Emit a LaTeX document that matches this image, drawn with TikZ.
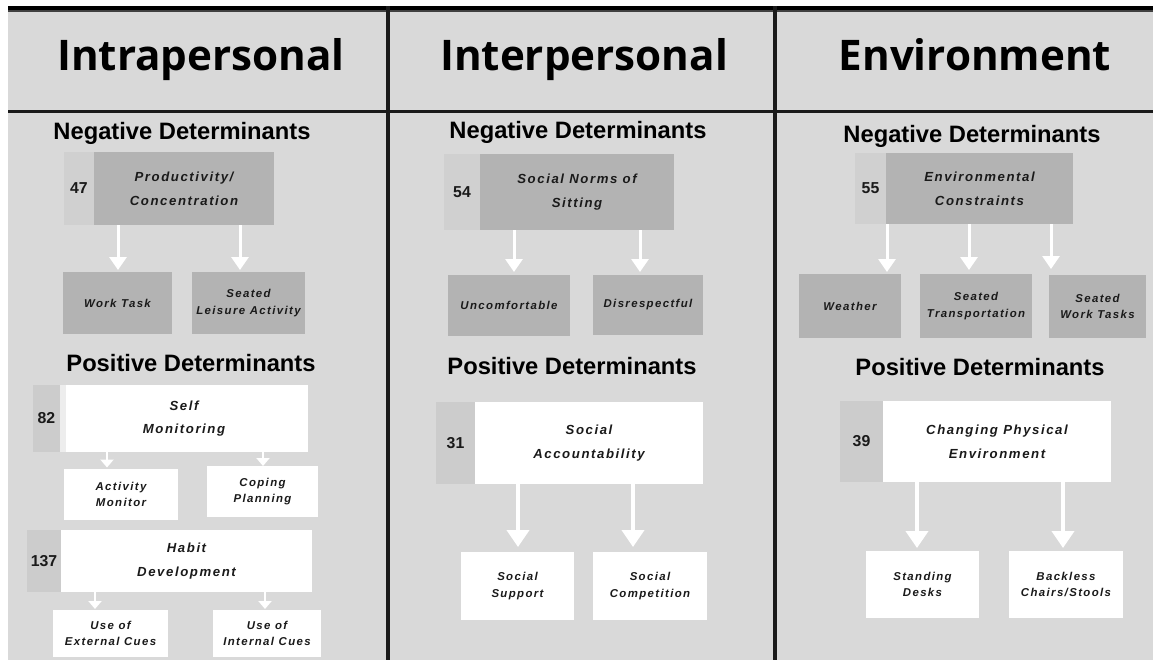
\documentclass[tikz,border=0pt]{standalone}
\usepackage{fontspec}
\setmainfont{Liberation Sans}
\newfontfamily\headfont{Open Sans}
\newfontfamily\boxfont[LetterSpace=12]{Liberation Sans}
\usetikzlibrary{arrows.meta, positioning}
\newcommand{\pxu}{0.02cm}
\definecolor{bggray}{HTML}{D9D9D9}
\definecolor{negdark}{HTML}{B3B3B3}
\definecolor{negnum}{HTML}{D0D0D0}
\definecolor{posnum}{HTML}{CCCCCC}
\definecolor{textdark}{HTML}{1A1A1A}
\definecolor{rulegray}{HTML}{1A1A1A}

\begin{document}
\begin{tikzpicture}[x=0.02cm, y=-0.02cm,
    sz/.style 2 args={minimum width=#1*\pxu, minimum height=#2*\pxu},
    head/.style={font=\headfont\fontsize{24}{28}\selectfont\bfseries, anchor=base, inner sep=0pt},
    subhead/.style={font=\bfseries\fontsize{13.5}{16}\selectfont, anchor=base, inner sep=0pt},
    mainbox/.style={rectangle, inner sep=0pt, outer sep=0pt, align=center, text=textdark,
        font=\boxfont\fontsize{7.5}{13.5}\selectfont\bfseries\itshape},
    leafbox/.style={rectangle, inner sep=0pt, outer sep=0pt, align=center, text=textdark,
        font=\boxfont\fontsize{6.5}{9.5}\selectfont\bfseries\itshape},
    numbox/.style={rectangle, inner sep=0pt, outer sep=0pt, text=textdark,
        font=\bfseries\fontsize{9}{11}\selectfont},
    negarrow/.style={draw=white, line width=0.06cm, -{Triangle[width=0.34cm, length=0.26cm]}},
    smallarrow/.style={draw=white, line width=0.05cm, -{Triangle[width=0.26cm, length=0.16cm]}},
    bigarrow/.style={draw=white, line width=0.08cm, -{Triangle[width=0.44cm, length=0.34cm]}}]

    \useasboundingbox (0,0) rectangle (1153,660);
    \fill[white] (0,0) rectangle (1153,660);
    \fill[bggray] (8,6) rectangle (1153,660);
    \fill[black] (8,6) rectangle (1153,10);
    \fill[black!75] (8,10) rectangle (1153,11.5);
    \fill[rulegray] (8,110) rectangle (1153,113);
    \fill[rulegray] (386,6) rectangle (390,660);
    \fill[rulegray] (773,6) rectangle (777,660);

    \node[head] (intrahead) at (201,70) {Intrapersonal};
    \node[head] (interhead) at (584,70) {Interpersonal};
    \node[head] (envhead) at (975,70) {Environment};

    \node[subhead] (intraneg) at (182,139) {Negative Determinants};
    \node[subhead] (interneg) at (578,138) {Negative Determinants};
    \node[subhead] (envneg) at (972,142) {Negative Determinants};
    \node[subhead] (intrapos) at (191,371) {Positive Determinants};
    \node[subhead] (interpos) at (572,374) {Positive Determinants};
    \node[subhead] (envpos) at (980,375) {Positive Determinants};

    % intrapersonal
    \node[mainbox, fill=negdark, sz={180}{73}] (prodbox) at (184,188.5) {Productivity/\\Concentration};
    \node[numbox, fill=negnum, sz={30}{73}, left=0pt of prodbox] (prodnum) {47};
    \node[leafbox, fill=negdark, sz={109}{62}] (worktask) at (117.5,303) {Work Task};
    \node[leafbox, fill=negdark, sz={113}{62}] (leisure) at (248.5,303) {Seated\\Leisure Activity};

    \node[mainbox, fill=white, sz={248}{67}] (selfmon) at (184,418.5) {Self\\Monitoring};
    \node[numbox, fill=posnum, sz={27}{67}, left=0pt of selfmon] (selfnum) {82};
    \fill[white!93!black] (selfmon.north west) rectangle ([xshift=6*\pxu]selfmon.south west);
    \node[leafbox, fill=white, sz={114}{51}] (actmon) at (121,494.5) {Activity\\Monitor};
    \node[leafbox, fill=white, sz={111}{51}] (coping) at (262.5,491.5) {Coping\\Planning};

    \node[mainbox, fill=white, sz={251}{62}] (habit) at (186.5,561) {Habit\\Development};
    \node[numbox, fill=posnum, sz={34}{62}, left=0pt of habit] (habitnum) {137};
    \node[leafbox, fill=white, sz={115}{47}] (extcues) at (110.5,633.5) {Use of\\External Cues};
    \node[leafbox, fill=white, sz={108}{47}] (intcues) at (267,633.5) {Use of\\Internal Cues};

    % interpersonal
    \node[mainbox, fill=negdark, sz={194}{76}] (norms) at (577,192) {Social Norms of\\Sitting};
    \node[numbox, fill=negnum, sz={36}{76}, left=0pt of norms] (normsnum) {54};
    \node[leafbox, fill=negdark, sz={122}{61}] (uncomf) at (509,305.5) {Uncomfortable};
    \node[leafbox, fill=negdark, sz={110}{60}] (disresp) at (648,305) {Disrespectful};

    \node[mainbox, fill=white, sz={228}{82}] (account) at (589,443) {Social\\Accountability};
    \node[numbox, fill=posnum, sz={39}{82}, left=0pt of account] (accnum) {31};
    \node[leafbox, fill=white, sz={113}{68}] (support) at (517.5,586) {Social\\Support};
    \node[leafbox, fill=white, sz={114}{68}] (compet) at (650,586) {Social\\Competition};

    % environment
    \node[mainbox, fill=negdark, sz={187}{71}] (constr) at (979.5,188.5) {Environmental\\Constraints};
    \node[numbox, fill=negnum, sz={31}{71}, left=0pt of constr] (constrnum) {55};
    \node[leafbox, fill=negdark, sz={102}{64}] (weather) at (850,306) {Weather};
    \node[leafbox, fill=negdark, sz={112}{64}] (transport) at (976,306) {Seated\\Transportation};
    \node[leafbox, fill=negdark, sz={97}{63}] (worktasks) at (1097.5,306.5) {Seated\\Work Tasks};

    \node[mainbox, fill=white, sz={228}{81}] (physenv) at (997,441.5) {Changing Physical\\Environment};
    \node[numbox, fill=posnum, sz={43}{81}, left=0pt of physenv] (physnum) {39};
    \node[leafbox, fill=white, sz={113}{67}] (standing) at (922.5,584.5) {Standing\\Desks};
    \node[leafbox, fill=white, sz={114}{67}] (backless) at (1066,584.5) {Backless\\Chairs/Stools};

    \draw[negarrow, shorten >=0.04cm] (prodbox.south -| 118,0) -- (worktask.north -| 118,0);
    \draw[negarrow, shorten >=0.04cm] (prodbox.south -| 240,0) -- (leisure.north -| 240,0);
    \draw[smallarrow, shorten >=0.03cm] (selfmon.south -| 107,0) -- (actmon.north -| 107,0);
    \draw[smallarrow] (selfmon.south -| 263,0) -- (coping.north -| 263,0);
    \draw[smallarrow, shorten >=0.02cm] (habit.south -| 95,0) -- (extcues.north -| 95,0);
    \draw[smallarrow, shorten >=0.02cm] (habit.south -| 265,0) -- (intcues.north -| 265,0);

    \draw[negarrow, shorten >=0.06cm] (norms.south -| 514,0) -- (uncomf.north -| 514,0);
    \draw[negarrow, shorten >=0.06cm] (norms.south -| 640,0) -- (disresp.north -| 640,0);
    \draw[bigarrow, shorten >=0.1cm] (account.south -| 518,0) -- (support.north -| 518,0);
    \draw[bigarrow, shorten >=0.1cm] (account.south -| 633,0) -- (compet.north -| 633,0);

    \draw[negarrow, shorten >=0.04cm] (constr.south -| 887,0) -- (weather.north -| 887,0);
    \draw[negarrow, shorten >=0.08cm] (constr.south -| 969,0) -- (transport.north -| 969,0);
    \draw[negarrow, shorten >=0.12cm] (constr.south -| 1051,0) -- (worktasks.north -| 1051,0);
    \draw[bigarrow, shorten >=0.06cm] (physenv.south -| 917,0) -- (standing.north -| 917,0);
    \draw[bigarrow, shorten >=0.06cm] (physenv.south -| 1063,0) -- (backless.north -| 1063,0);
\end{tikzpicture}
\end{document}
